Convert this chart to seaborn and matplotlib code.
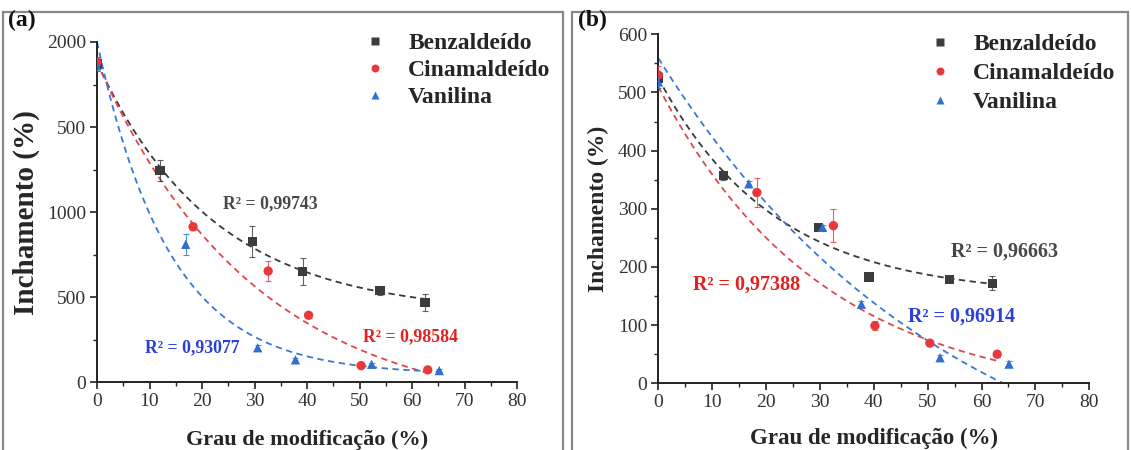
import numpy as np
import pandas as pd
import matplotlib
matplotlib.use("Agg")
import matplotlib.pyplot as plt
import seaborn as sns
from matplotlib.patches import Rectangle

sns.set_theme(style="ticks")
plt.rcParams['font.family'] = ['Liberation Serif', 'DejaVu Serif']

series = ["Benzaldeído", "Cinamaldeído", "Vanilina"]

# Panel (a) measurements
a_benz_x = [0, 12.0, 29.6, 39.2, 53.9, 62.5]
a_benz_y = [1870, 1245, 827, 650, 540, 467]
a_benz_e = [40, 60, 90, 80, 25, 50]
a_cina_x = [0, 18.3, 32.6, 40.3, 50.3, 63.0]
a_cina_y = [1880, 914, 654, 394, 98, 73]
a_cina_e = [30, 20, 60, 15, 10, 10]
a_vani_x = [0, 16.9, 30.6, 37.8, 52.3, 65.2]
a_vani_y = [1860, 811, 203, 132, 106, 69]
a_vani_e = [30, 60, 15, 10, 10, 10]
# exponential-decay fits y = y0 + A*exp(-x/tau)
a_fit_y0 = [400, -200, 45]
a_fit_A = [1480, 2080, 1955]
a_fit_tau = [22.3, 30.0, 13.8]
a_fit_end = [63.5, 63.5, 66.5]
a_r2 = ["R² = 0,99743", "R² = 0,98584", "R² = 0,93077"]
a_yticks = [0, 500, 1000, 1500, 2000]
a_yticklabels = ["0", "500", "1000", "500", "2000"]

# Panel (b) measurements
b_benz_x = [0, 12.1, 29.7, 39.1, 54.0, 62.0]
b_benz_y = [525, 357, 268, 183, 179, 172]
b_benz_e = [10, 8, 5, 5, 4, 12]
b_cina_x = [0, 18.3, 32.5, 40.2, 50.4, 62.9]
b_cina_y = [530, 328, 271, 99, 69, 50]
b_cina_e = [15, 25, 28, 8, 3, 5]
b_vani_x = [0, 16.8, 30.5, 37.7, 52.3, 65.1]
b_vani_y = [518, 343, 268, 136, 44, 33]
b_vani_e = [10, 5, 5, 5, 5, 5]
b_fit_y0 = [150, -30, -250]
b_fit_A = [375, 540, 809]
b_fit_tau = [21.5, 30.5, 54.5]
b_fit_end = [62.5, 63.0, 66.0]
b_r2 = ["R² = 0,96663", "R² = 0,97388", "R² = 0,96914"]
b_yticks = [0, 100, 200, 300, 400, 500, 600]

xticks = [0, 10, 20, 30, 40, 50, 60, 70, 80]

colors = {"Benzaldeído": "#3c3c3c", "Cinamaldeído": "#e8383c", "Vanilina": "#2f6fd0"}
line_colors = {"Benzaldeído": "#3a3a3a", "Cinamaldeído": "#e04848", "Vanilina": "#3a78d8"}
markers = {"Benzaldeído": "s", "Cinamaldeído": "o", "Vanilina": "^"}
r2_colors = ["#484848", "#e42020", "#2a40d8"]

fig = plt.figure(figsize=(11.31, 4.5), dpi=100)
axa = fig.add_axes([97 / 1131, 1 - 382.3 / 450, 420 / 1131, 340.3 / 450])
axb = fig.add_axes([658.3 / 1131, 1 - 383.3 / 450, 431 / 1131, 349 / 450])

panels = [
    (axa, [(a_benz_x, a_benz_y, a_benz_e), (a_cina_x, a_cina_y, a_cina_e),
           (a_vani_x, a_vani_y, a_vani_e)], (a_fit_y0, a_fit_A, a_fit_tau, a_fit_end)),
    (axb, [(b_benz_x, b_benz_y, b_benz_e), (b_cina_x, b_cina_y, b_cina_e),
           (b_vani_x, b_vani_y, b_vani_e)], (b_fit_y0, b_fit_A, b_fit_tau, b_fit_end)),
]

for ax, data, (y0s, As, taus, ends) in panels:
    frames = []
    for i, (name, (x, y, e)) in enumerate(zip(series, data)):
        xx = np.linspace(0, ends[i], 300)
        fdf = pd.DataFrame({"x": xx, "y": y0s[i] + As[i] * np.exp(-xx / taus[i])})
        sns.lineplot(data=fdf, x="x", y="y", ax=ax, color=line_colors[name],
                     linestyle=(0, (3.5, 2.5)), linewidth=1.3, zorder=2)
        ax.errorbar(x, y, yerr=e, fmt="none", ecolor=colors[name], elinewidth=0.8,
                    capsize=2.5, capthick=0.8, alpha=0.8, zorder=3)
        frames.append(pd.DataFrame({"x": x, "y": y, "s": name}))
    df = pd.concat(frames)
    sns.scatterplot(data=df, x="x", y="y", hue="s", style="s", palette=colors,
                    markers=markers, s=45, edgecolor="none", ax=ax, zorder=4)

axa.set_ylim(0, 2000)
axa.set_yticks(a_yticks)
axa.set_yticklabels(a_yticklabels)
axa.set_yticks(np.arange(250, 2000, 500), minor=True)
axb.set_ylim(0, 600)
axb.set_yticks(b_yticks)
axb.set_yticks(np.arange(50, 600, 100), minor=True)

for ax in (axa, axb):
    sns.despine(ax=ax)
    ax.set_xlim(0, 80)
    ax.set_xticks(xticks)
    ax.set_xticks(np.arange(5, 80, 10), minor=True)
    ax.tick_params(axis="both", which="major", direction="out", length=5, width=1.2,
                   labelsize=14, colors="#222", pad=3)
    ax.tick_params(axis="both", which="minor", direction="out", length=3, width=1.0, colors="#222")
    for s in ("left", "bottom"):
        ax.spines[s].set_linewidth(1.4)
        ax.spines[s].set_color("#222")
    for lab in ax.get_xticklabels() + ax.get_yticklabels():
        lab.set_color("#333")
        lab.set_fontsize(14)
    ax.set_facecolor("white")

axa.legend(frameon=False, prop={"family": "Liberation Serif", "weight": "bold", "size": 17},
           handlelength=1.6, handletextpad=0.6, labelspacing=0.24, markerscale=0.85,
           loc="upper left", bbox_to_anchor=(335 / 1131, 1 - 11 / 450),
           bbox_transform=fig.transFigure, borderpad=0.4)
axb.legend(frameon=False, prop={"family": "Liberation Serif", "weight": "bold", "size": 17},
           handlelength=1.6, handletextpad=0.6, labelspacing=0.33, markerscale=0.85,
           loc="upper left", bbox_to_anchor=(900 / 1131, 1 - 12 / 450),
           bbox_transform=fig.transFigure, borderpad=0.4)

axa.set_xlabel("Grau de modificação (%)", fontsize=16, fontweight="bold", labelpad=14)
axa.set_ylabel("Inchamento (%)", fontsize=21, fontweight="bold", labelpad=5)
axb.set_xlabel("Grau de modificação (%)", fontsize=16.5, fontweight="bold", labelpad=12)
axb.set_ylabel("Inchamento (%)", fontsize=17, fontweight="bold", labelpad=6)

# R² annotations
kw = dict(fontweight="bold", va="center", ha="left")
axa.text(24.0, 1048, a_r2[0], color=r2_colors[0], fontsize=12.8, **kw)
axa.text(50.7, 270, a_r2[1], color=r2_colors[1], fontsize=12.8, **kw)
axa.text(9.1, 201, a_r2[2], color=r2_colors[2], fontsize=12.8, **kw)
axb.text(54.4, 226, b_r2[0], color=r2_colors[0], fontsize=14.5, **kw)
axb.text(6.5, 169, b_r2[1], color=r2_colors[1], fontsize=14.5, **kw)
axb.text(46.4, 114, b_r2[2], color=r2_colors[2], fontsize=14.5, **kw)

fig.text(8 / 1131, 1 - 20 / 450, "(a)", fontsize=17, fontweight="bold", color="#111", va="center")
fig.text(578 / 1131, 1 - 20 / 450, "(b)", fontsize=17, fontweight="bold", color="#111", va="center")

# panel frames
for x0, x1 in [(3, 563), (572, 1128)]:
    fig.patches.append(Rectangle((x0 / 1131, -0.01), (x1 - x0) / 1131, (450 - 12) / 450 + 0.01,
                                 transform=fig.transFigure, fill=False, edgecolor="#888",
                                 linewidth=1.6))

fig.savefig("out.png", dpi=100, facecolor="white")
